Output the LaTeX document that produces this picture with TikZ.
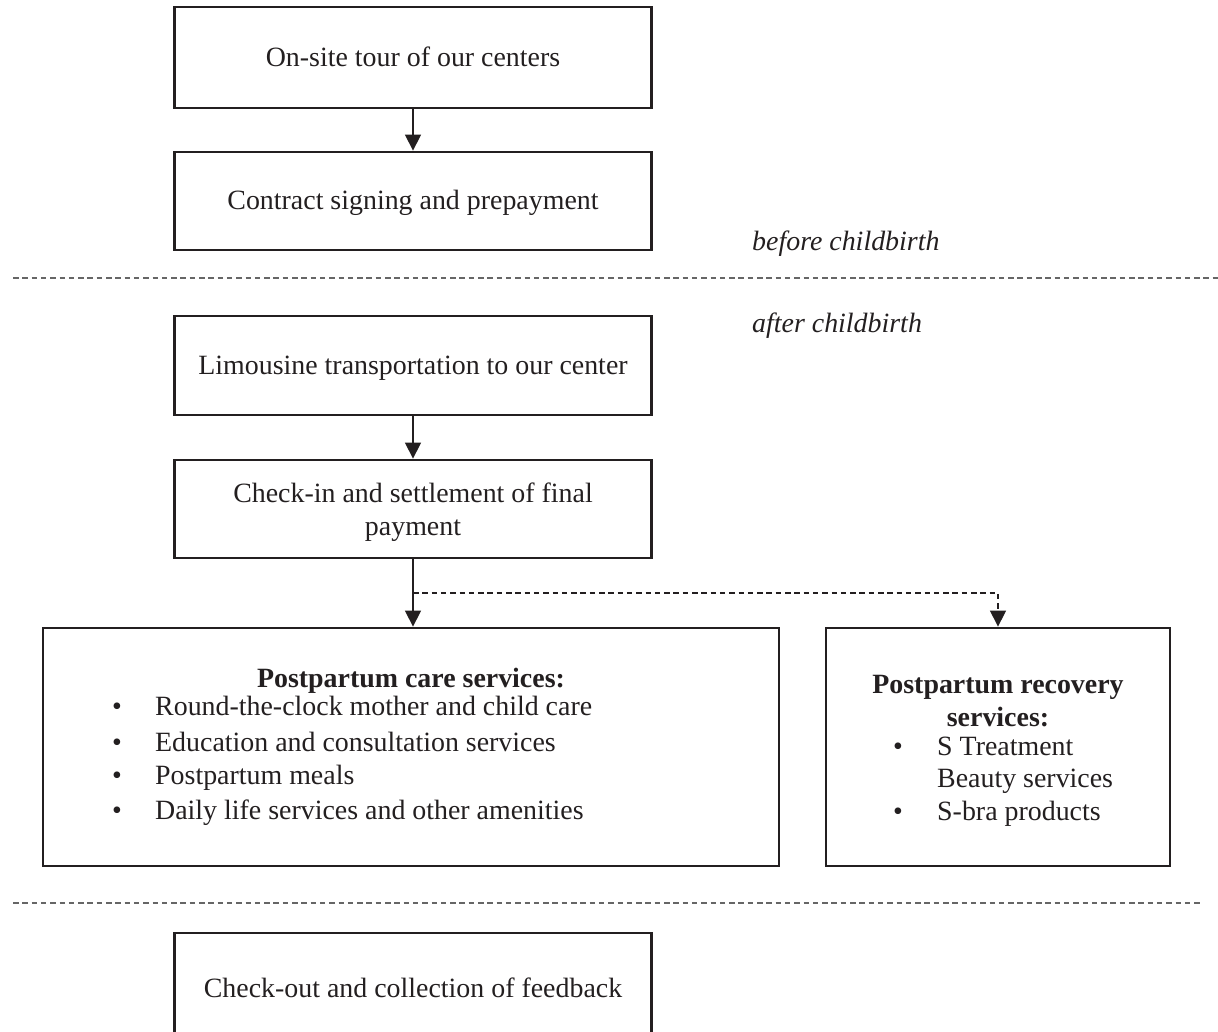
\documentclass[tikz,border=0pt]{standalone}
\usepackage{fontspec}
\setmainfont{Liberation Serif}
\usetikzlibrary{arrows.meta}
\definecolor{ink}{HTML}{231F20}
\definecolor{dashgray}{HTML}{666666}
\begin{document}
\begin{tikzpicture}[x=1pt,y=-1pt,
  every node/.style={font=\fontsize{27.9}{33}\selectfont, inner sep=0pt, text=ink},
  box/.style={draw=ink, line width=2.8pt, minimum width=477pt, align=center},
  oneline/.style={text height=23pt, text depth=6pt},
  flow/.style={draw=ink, line width=1.3pt, -{Triangle[width=16pt,length=16pt]}},
  dashflow/.style={flow, dash pattern=on 5.5pt off 3.8pt, line width=1.2pt},
  sep/.style={draw=dashgray, line width=1.5pt, dash pattern=on 5.5pt off 3.8pt},
  item/.style={anchor=base west},
  dot/.style={anchor=base},
  phase/.style={anchor=base west, font=\fontsize{27.9}{33}\selectfont\itshape},
  head/.style={anchor=base, font=\fontsize{27.9}{33}\selectfont\bfseries}]

\useasboundingbox (0,0) rectangle (1218,1031);
\clip (0,0) rectangle (1218,1031);

% process steps
\node[box, oneline, minimum height=101pt] (tour) at (413,57.5) {On-site tour of our centers};
\node[box, oneline, minimum height=98pt] (contract) at (413,201) {Contract signing and prepayment};
\node[box, oneline, minimum height=99pt] (limo) at (413,365.5) {Limousine transportation to our center};
\node[box, text depth=0pt, minimum height=98pt] (checkin) at (413,509) {Check-in and settlement of final\\payment};
\node[box, minimum width=736pt, minimum height=238pt] (care) at (411,747) {};
\node[box, minimum width=344pt, minimum height=238pt] (recovery) at (998,747) {};
\node[box, oneline, minimum height=112pt] (checkout) at (413,989) {Check-out and collection of feedback};

% phase labels
\node[phase] (before) at (752,250) {before childbirth};
\node[phase] (after) at (752,332) {after childbirth};

% postpartum care services
\node[head] (careHead) at (411,687) {Postpartum care services:};
\node[dot] (careDotA) at (117,715) {•};
\node[item] (careA) at (155,715) {Round-the-clock mother and child care};
\node[dot] (careDotB) at (117,751) {•};
\node[item] (careB) at (155,751) {Education and consultation services};
\node[dot] (careDotC) at (117,784) {•};
\node[item] (careC) at (155,784) {Postpartum meals};
\node[dot] (careDotD) at (117,819) {•};
\node[item] (careD) at (155,819) {Daily life services and other amenities};

% postpartum recovery services
\node[head] (recHeadA) at (998,693) {Postpartum recovery};
\node[head] (recHeadB) at (998,726) {services:};
\node[dot] (recDotA) at (898,755) {•};
\node[item] (recA) at (937,755) {S Treatment};
\node[item] (recB) at (937,787) {Beauty services};
\node[dot] (recDotB) at (898,820) {•};
\node[item] (recC) at (937,820) {S-bra products};

% connectors
\draw[flow] (tour) -- (contract);
\draw[flow] (limo) -- (checkin);
\draw[flow] (checkin.south) -- (checkin.south |- care.north);
\coordinate (split) at (checkin.south |- 0,593);
\draw[dashflow] (split) -| (recovery.north);

% phase separators
\draw[sep] (13,278) -- (1218,278);
\draw[sep] (13,903) -- (1200,903);
\end{tikzpicture}
\end{document}
